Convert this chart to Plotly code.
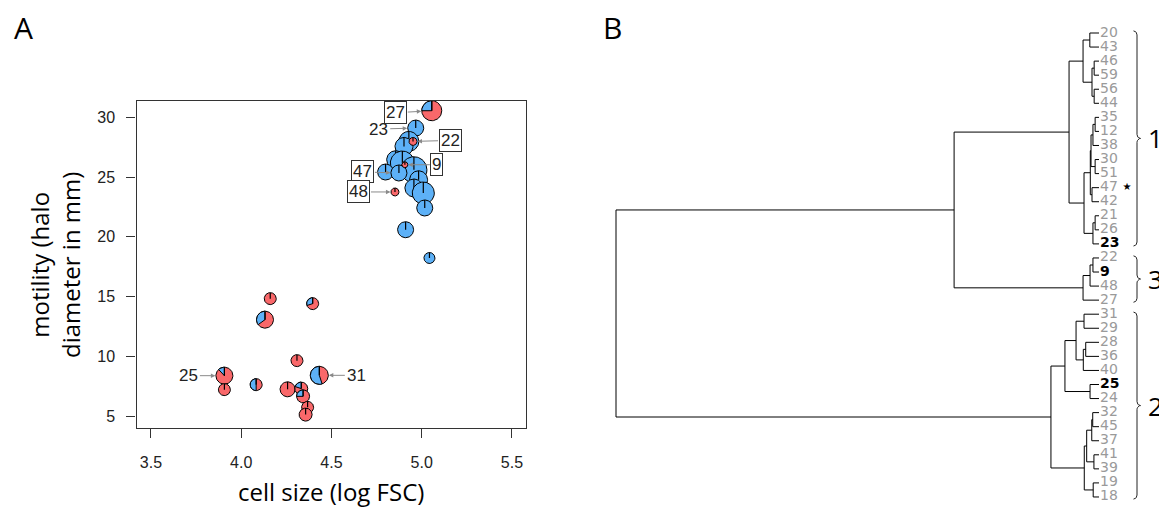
import numpy as np
import plotly.graph_objects as go

# ---------------- DATA ----------------
# Panel A: pies (x = log FSC, y = halo diameter mm, weight = pie size, blue = fraction blue)
pie_x = [5.056, 4.967, 4.929, 4.902, 4.856, 4.893, 4.957, 4.800, 4.874, 4.983,
         4.957, 5.009, 5.017, 4.911, 5.043, 4.952, 4.907, 4.852,
         3.907, 3.907, 4.083, 4.257, 4.309, 4.333, 4.343, 4.368, 4.357, 4.433,
         4.161, 4.396, 4.132]
pie_y = [30.56, 29.11, 27.99, 27.57, 26.46, 26.18, 25.62, 25.43, 25.35, 24.78,
         24.09, 23.67, 22.42, 20.60, 18.23, 27.99, 26.04, 23.76,
         8.38, 7.21, 7.63, 7.24, 9.64, 7.30, 6.65, 5.73, 5.12, 8.41,
         14.83, 14.41, 13.07]
pie_weight = [10, 8, 10, 9, 9, 12, 13, 8, 8, 9,
              9, 11, 8, 8, 5.5, 4, 3, 4,
              8.5, 6, 6, 7.5, 6, 6.5, 6.5, 6, 6.5, 9,
              6, 6, 8.5]
pie_blue = [0.25, 1, 1, 1, 1, 1, 1, 1, 1, 1,
            1, 1, 1, 1, 1, 0, 0, 0,
            0.12, 0, 0.5, 0, 0, 0.2, 0.25, 0, 0, 0.55,
            0, 0.3, 0.35]
pie_label = ["27", "23", "", "", "", "", "", "", "47", "",
             "", "", "", "", "", "22", "9", "48",
             "25", "", "", "", "", "", "", "", "", "31",
             "", "", ""]
boxed_labels = ["27", "22", "9", "47", "48"]
label_dx = {"27": -36, "23": -37, "22": 37, "9": 32, "47": -36, "48": -36, "25": -36, "31": 37}
label_dy = {"27": 2, "23": 1, "22": -1, "9": 0, "47": -1, "48": 0, "25": 0, "31": 0}

x_ticks = [3.5, 4.0, 4.5, 5.0, 5.5]
y_ticks = [5, 10, 15, 20, 25, 30]

# Panel B: dendrogram (leaf order top->bottom, merge heights)
leaf_order = ["20", "43", "46", "59", "56", "44", "35", "12", "38", "30", "51", "47", "42",
              "21", "26", "23", "22", "9", "48", "27", "31", "29", "28", "36", "40", "25",
              "24", "32", "45", "37", "41", "39", "19", "18"]
bold_leaves = ["23", "9", "25"]
starred_leaf = "47"
tree = (
    (
        (  # cluster 1
            (("20", "43", 1.9), (("46", "59", 1.0), ("56", "44", 1.0), 1.45), 3.3),
            (
                (
                    ((("35", "12", 0.8), "38", 1.25), ("30", "51", 0.8), 1.65),
                    ("47", "42", 1.45), 1.8),
                (("21", "26", 0.8), "23", 1.25), 3.1),
            6.2),
        ((("22", "9", 1.25), "48", 1.85), "27", 3.3),  # cluster 3
        30.0),
    (  # cluster 2
        (
            (("31", "29", 3.1), (("28", "36", 2.75), "40", 3.25), 4.75),
            ("25", "24", 1.85), 7.05),
        (
            ((("32", "45", 1.3), "37", 1.5), ("41", "39", 1.05), 2.55),
            ("19", "18", 1.2), 3.05),
        9.95),
    100.0)
cluster_names = ["1", "3", "2"]
cluster_first = ["20", "22", "31"]
cluster_last = ["23", "27", "18"]

# ---------------- STYLE / LAYOUT ----------------
OFF = 8  # the page body margin offsets the figure by 8 px
W, H = 1167 - OFF, 509 - OFF
RED = "#F9686A"
BLUE = "#5DB1F7"
A_XR = [3.42, 5.578]
A_YR = [4.0, 31.4]
A_PX = [136.5 - OFF, 526.0 - OFF]
A_PY = [100.7 - OFF, 428.0 - OFF]
B_XPX = [600.0 - OFF, W]
LEAF_PX = 1099.0 - OFF
ROOT_PX = 616.0 - OFF
LEAF_TOP = 33.0 - OFF
LEAF_STEP = 14.06

fig = go.Figure()

# ---- panel A pies ----
dx_pp = (A_XR[1] - A_XR[0]) / (A_PX[1] - A_PX[0])
dy_pp = (A_YR[1] - A_YR[0]) / (A_PY[1] - A_PY[0])

for cx, cy, r, fb in zip(pie_x, pie_y, pie_weight, pie_blue):
    rx, ry = r * dx_pp, r * dy_pp
    t = np.linspace(0, 2 * np.pi, 73)
    fig.add_trace(go.Scatter(x=list(cx + rx * np.cos(t)), y=list(cy + ry * np.sin(t)),
                             mode="lines", fill="toself", fillcolor=RED if fb < 1 else BLUE,
                             line=dict(color="black", width=1), hoverinfo="skip",
                             showlegend=False, xaxis="x", yaxis="y"))
    if 0 < fb < 1:
        a = np.linspace(np.pi / 2, np.pi / 2 + 2 * np.pi * fb, 40)
        wx = [cx] + list(cx + rx * np.cos(a)) + [cx]
        wy = [cy] + list(cy + ry * np.sin(a)) + [cy]
        fig.add_trace(go.Scatter(x=wx, y=wy, mode="lines", fill="toself", fillcolor=BLUE,
                                 line=dict(color="black", width=1), hoverinfo="skip",
                                 showlegend=False, xaxis="x", yaxis="y"))
    fig.add_trace(go.Scatter(x=[cx, cx], y=[cy, cy + ry], mode="lines",
                             line=dict(color="black", width=1.2), hoverinfo="skip",
                             showlegend=False, xaxis="x", yaxis="y"))

annotations = []
for cx, cy, r, lab in zip(pie_x, pie_y, pie_weight, pie_label):
    if not lab:
        continue
    boxed = lab in boxed_labels
    annotations.append(dict(
        x=cx, y=cy, xref="x", yref="y", text=lab, showarrow=True,
        ax=label_dx[lab], ay=label_dy[lab], axref="pixel", ayref="pixel",
        arrowcolor="#8a8a8a", arrowwidth=1, arrowhead=2, arrowsize=0.9,
        standoff=r + 0.5, startstandoff=1,
        font=dict(family="Liberation Sans, Arial", size=17, color="#222"),
        bordercolor="#333" if boxed else "rgba(0,0,0,0)", borderwidth=1 if boxed else 0,
        borderpad=1, bgcolor="white" if boxed else "rgba(0,0,0,0)"))

# ---- panel B dendrogram ----
def h_of_px(px):
    return (LEAF_PX - px) / (LEAF_PX - ROOT_PX) * 100.0

leaf_idx = {n: i for i, n in enumerate(leaf_order)}
lx, ly = [], []

def walk(node):
    if isinstance(node, str):
        return 0.0, float(leaf_idx[node])
    a, b, h = node
    ha, ya = walk(a)
    hb, yb = walk(b)
    lx.extend([ha, h, h, hb, None])
    ly.extend([ya, ya, yb, yb, None])
    return h, (ya + yb) / 2

root_h, root_y = walk(tree)

fig.add_trace(go.Scatter(x=lx, y=ly, mode="lines", line=dict(color="black", width=1),
                         hoverinfo="skip", showlegend=False, xaxis="x2", yaxis="y2"))

leaf_text = [f"<b>{n}</b>" if n in bold_leaves else n for n in leaf_order]
leaf_col = ["black" if n in bold_leaves else "#9a9a9a" for n in leaf_order]
fig.add_trace(go.Scatter(x=[h_of_px(LEAF_PX + 1)] * len(leaf_order),
                         y=list(range(len(leaf_order))), mode="text", text=leaf_text,
                         textposition="middle right",
                         textfont=dict(family="DejaVu Sans", size=14, color=leaf_col),
                         hoverinfo="skip", showlegend=False, xaxis="x2", yaxis="y2"))

# star
fig.add_trace(go.Scatter(x=[h_of_px(1127 - OFF)], y=[leaf_idx[starred_leaf]], mode="text",
                         text=["⋆"],
                         textfont=dict(family="DejaVu Sans", size=20, color="black"),
                         hoverinfo="skip", showlegend=False, xaxis="x2", yaxis="y2"))

# braces
def brace(y0, y1, xb_px):
    px_to_i = 1.0 / LEAF_STEP
    c = 4.0 * px_to_i
    ym = (y0 + y1) / 2
    w = 3.5
    xs, ys = [], []
    def arc(xc_px, yc, th0, th1, rx_px, ry):
        th = np.linspace(th0, th1, 10)
        return list(xc_px + rx_px * np.cos(th)), list(yc + ry * np.sin(th))
    ax_, ay_ = arc(xb_px - w, y0 + c, -np.pi / 2, 0, w, c)
    xs += ax_; ys += ay_
    ax_, ay_ = arc(xb_px + w, ym - c, np.pi, np.pi / 2, w, c)
    xs += ax_; ys += ay_
    ax_, ay_ = arc(xb_px + w, ym + c, -np.pi / 2, -np.pi, w, c)
    xs += ax_; ys += ay_
    ax_, ay_ = arc(xb_px - w, y1 - c, 0, np.pi / 2, w, c)
    xs += ax_; ys += ay_
    return [h_of_px(v) for v in xs], ys

for name, f, l in zip(cluster_names, cluster_first, cluster_last):
    y0 = leaf_idx[f] - 0.15
    y1 = leaf_idx[l] + 0.15
    bx, by = brace(y0, y1, 1137.0 - OFF)
    fig.add_trace(go.Scatter(x=bx, y=by, mode="lines", line=dict(color="#222", width=1),
                             hoverinfo="skip", showlegend=False, xaxis="x2", yaxis="y2"))
    annotations.append(dict(x=h_of_px(1155 - OFF), y=(y0 + y1) / 2, xref="x2", yref="y2",
                            text=name, showarrow=False, xanchor="center", yanchor="middle",
                            font=dict(family="Open Sans", size=26, color="black")))

# panel letters and axis titles
def paper_txt(px, py, text, size, angle=0):
    return dict(x=(px - OFF) / W, y=1 - (py - OFF) / H, xref="paper", yref="paper",
                text=text, showarrow=False, xanchor="center", yanchor="middle",
                textangle=angle, font=dict(family="Open Sans", size=size, color="black"))

annotations += [
    paper_txt(23, 28, "A", 30),
    paper_txt(612, 28, "B", 30),
    paper_txt(331, 491, "cell size (log FSC)", 24),
    paper_txt(55, 265, "motility (halo<br>diameter in mm)", 24, -90),
]

fig.update_layout(
    width=W, height=H, margin=dict(l=0, r=0, t=0, b=0, autoexpand=False),
    paper_bgcolor="white", plot_bgcolor="white", showlegend=False,
    xaxis=dict(domain=[A_PX[0] / W, A_PX[1] / W], range=A_XR, tickvals=x_ticks,
               ticktext=[f"{v:.1f}" for v in x_ticks], ticks="outside", ticklen=9,
               tickcolor="#333", showline=True, mirror=True, linecolor="#333", linewidth=1.3,
               showgrid=False, zeroline=False, ticklabelstandoff=11, automargin=False,
               tickfont=dict(family="Liberation Sans, Arial", size=16, color="#222")),
    yaxis=dict(domain=[1 - A_PY[1] / H, 1 - A_PY[0] / H], range=A_YR, tickvals=y_ticks,
               ticks="outside", ticklen=9, tickcolor="#333", showline=True, mirror=True,
               linecolor="#333", linewidth=1.3, showgrid=False, zeroline=False,
               ticklabelstandoff=8, automargin=False,
               tickfont=dict(family="Liberation Sans, Arial", size=16, color="#222")),
    xaxis2=dict(domain=[B_XPX[0] / W, 1.0],
                range=[h_of_px(B_XPX[0]), h_of_px(B_XPX[1])],
                visible=False, showgrid=False, zeroline=False, automargin=False),
    yaxis2=dict(domain=[0, 1], range=[(H - LEAF_TOP) / LEAF_STEP, -LEAF_TOP / LEAF_STEP],
                visible=False, showgrid=False, zeroline=False, automargin=False),
    annotations=annotations,
)

fig.write_html("out.html")
